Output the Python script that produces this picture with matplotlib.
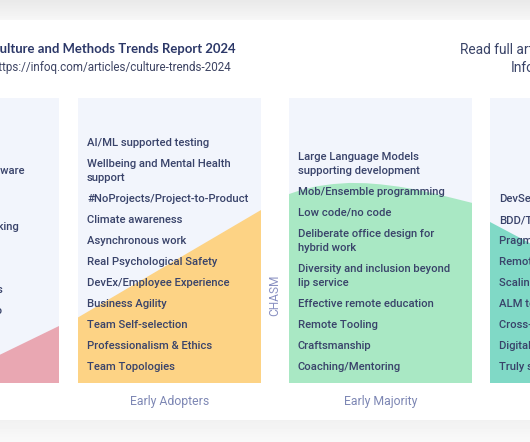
import matplotlib
matplotlib.use("Agg")
import matplotlib.pyplot as plt
from matplotlib.patches import Rectangle, Polygon
import numpy as np

# ---------------- data ----------------
title = "Culture and Methods Trends Report 2024"
url = "https://infoq.com/articles/culture-trends-2024"
read_more = ["Read full article on", "InfoQ"]

stage_labels = ["Innovators", "Early Adopters", "Early Majority", "Late Majority"]
chasm_label = "CHASM"

innovators = [
    "Green software",
    "Sustainable, green software\ndelivery",
    "Hybrid work",
    "Socio-technical AI thinking",
    "Flow metrics",
    "Value streams",
    "Outcomes over outputs",
    "Getting AI assistants to\nboost flow",
    "OKRs",
    "Platform teams",
]
early_adopters = [
    "AI/ML supported testing",
    "Wellbeing and Mental Health\nsupport",
    "#NoProjects/Project-to-Product",
    "Climate awareness",
    "Asynchronous work",
    "Real Psychological Safety",
    "DevEx/Employee Experience",
    "Business Agility",
    "Team Self-selection",
    "Professionalism & Ethics",
    "Team Topologies",
]
early_majority = [
    "Large Language Models\nsupporting development",
    "Mob/Ensemble programming",
    "Low code/no code",
    "Deliberate office design for\nhybrid work",
    "Diversity and inclusion beyond\nlip service",
    "Effective remote education",
    "Remote Tooling",
    "Craftsmanship",
    "Coaching/Mentoring",
]
late_majority = [
    "DevSecOps",
    "BDD/TDD",
    "Pragmatic Agile",
    "Remote work",
    "Scaling frameworks",
    "ALM tools",
    "Cross-functional teams",
    "Digital transformation",
    "Truly self-organizing teams",
]
columns = [innovators, early_adopters, early_majority, late_majority]

# adoption-curve top edge per panel: (fraction across panel, height fraction of panel)
curve_innov = [(0.0, 0.0), (0.68, 0.10), (1.0, 0.20)]
curve_early = [(0.0, 0.23), (1.0, 0.607)]
curve_major = [(0.0, 0.663), (0.07, 0.678), (0.15, 0.690), (0.24, 0.698),
               (0.33, 0.702), (0.42, 0.701), (0.5, 0.697), (0.6, 0.689),
               (0.7, 0.678), (0.8, 0.664), (0.9, 0.648), (1.0, 0.632)]
curve_late = [(0.0, 0.565), (0.22, 0.49), (1.0, 0.2)]
curves = [curve_innov, curve_early, curve_major, curve_late]

fill_colors = ["#e9a7b2", "#fdd385", "#a9e8c4", "#80d9c6"]

# ---------------- layout ----------------
W, H = 530, 442
fig = plt.figure(figsize=(W / 100, H / 100), dpi=100)
ax = fig.add_axes([0, 0, 1, 1])
ax.set_xlim(0, W)
ax.set_ylim(H, 0)
ax.axis("off")
renderer = fig.canvas.get_renderer()

BODY = "Roboto"
BODY_W = "medium"
TITLE_FONT = "Lato"
TEXT_C = "#39436a"
LABEL_C = "#7d87b4"
PANEL_BG = "#f2f5fc"


def text_width(s, size, **kw):
    t = ax.text(0, 0, s, fontsize=size, **kw)
    w = t.get_window_extent(renderer).width
    t.remove()
    return w


def fit_size(s, target_px, **kw):
    return 10 * target_px / text_width(s, 10, **kw)


body_size = fit_size("AI/ML supported testing", 122, family=BODY, fontweight=BODY_W)
label_size = fit_size("Early Adopters", 79, family=BODY)
chasm_size = fit_size(chasm_label, 41, family=BODY)
title_size = fit_size(title[1:], 238, family=TITLE_FONT, fontweight="bold")
url_size = fit_size(url[1:], 234, family=BODY)
head_size = body_size * 1.22

# background: grey shadow bands around a white card
grad_top = np.linspace(0.915, 0.965, 20).reshape(-1, 1)
ax.imshow(grad_top, cmap="gray", vmin=0, vmax=1, extent=(0, W, 20, 0),
          aspect="auto", zorder=0)
grad_bot = np.linspace(0.945, 0.975, 22).reshape(-1, 1)
ax.imshow(grad_bot, cmap="gray", vmin=0, vmax=1, extent=(0, W, H, 420),
          aspect="auto", zorder=0)
ax.add_patch(Rectangle((0, 20), W, 400, facecolor="white", edgecolor="none", zorder=0.5))

# header (left part is cropped by the picture edge)
title_x = -text_width(title[0], title_size, family=TITLE_FONT, fontweight="bold")
ax.text(title_x, 49, title, fontsize=title_size, fontweight="bold", family=TITLE_FONT,
        color="#2c3868", va="center", ha="left", zorder=3)
url_x = -1 - text_width(url[0], url_size, family=BODY)
ax.text(url_x, 68, url, fontsize=url_size, family=BODY, color="#3d4463",
        va="center", ha="left", zorder=3)
ax.text(460, 50, read_more[0], fontsize=head_size, family=BODY, color="#3a4468",
        va="center", ha="left", zorder=3)
ax.text(511, 67, read_more[1], fontsize=head_size, family=BODY, color="#3a4468",
        va="center", ha="left", zorder=3)

panel_left = [-124, 78, 289, 490]
panel_w = 183
top_y, bot_y = 98, 383
panel_h = bot_y - top_y

for i, (x0, items, curve, col) in enumerate(zip(panel_left, columns, curves, fill_colors)):
    ax.add_patch(Rectangle((x0, top_y), panel_w, panel_h, facecolor=PANEL_BG,
                           edgecolor="none", zorder=1))
    pts = [(x0 + fx * panel_w, bot_y - fy * panel_h) for fx, fy in curve]
    poly = [(pts[0][0], bot_y)] + pts + [(pts[-1][0], bot_y)]
    ax.add_patch(Polygon(poly, closed=True, facecolor=col, edgecolor="none", zorder=1.5))

    # stack item lines upward from the bottom
    y = 367
    positions = []
    for item in reversed(items):
        lines = item.split("\n")
        ys = [y - 14 * k for k in range(len(lines))]
        for line, yy in zip(lines, reversed(ys)):
            positions.append((line, yy))
        y = ys[-1] - 21
    for line, yy in positions:
        ax.text(x0 + 9, yy, line, fontsize=body_size, family=BODY, fontweight=BODY_W,
                color=TEXT_C, va="center", ha="left", zorder=3)

    if i in (1, 2):
        ax.text(x0 + panel_w / 2, 401, stage_labels[i], fontsize=label_size, family=BODY,
                color=LABEL_C, va="center", ha="center", zorder=3)

ax.text(275, 295, chasm_label, fontsize=chasm_size, family=BODY, color="#8a91c2",
        rotation=90, va="center", ha="center", zorder=3)

fig.savefig("out.png", dpi=100)
